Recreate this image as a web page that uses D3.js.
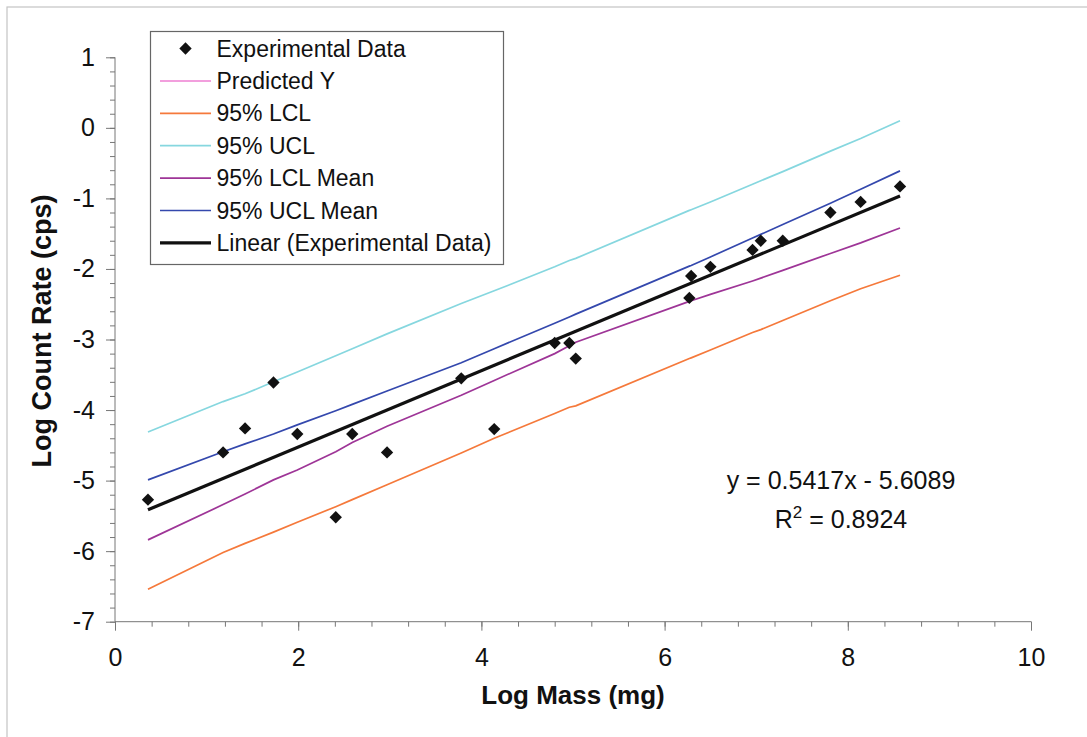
<!DOCTYPE html>
<html><head><meta charset="utf-8">
<script src="https://cdn.jsdelivr.net/npm/d3@7"></script>
<style>body{margin:0;background:#fff}svg{display:block}text{font-family:"Liberation Sans",Arial,sans-serif}</style>
</head><body><svg id="c" width="1087" height="737"></svg>
<script>
// Data
const xVals = [0.36,1.18,1.42,1.73,1.99,2.41,2.59,2.97,3.78,4.14,4.80,4.96,5.03,6.27,6.29,6.50,6.96,7.05,7.29,7.81,8.14,8.57];
const expData = [-5.27,-4.60,-4.26,-3.61,-4.34,-5.52,-4.34,-4.60,-3.55,-4.27,-3.05,-3.05,-3.27,-2.41,-2.10,-1.97,-1.73,-1.60,-1.60,-1.20,-1.05,-0.83];
const predictedY = [-5.41,-4.97,-4.84,-4.67,-4.53,-4.30,-4.21,-4.00,-3.56,-3.37,-3.01,-2.92,-2.88,-2.21,-2.20,-2.09,-1.84,-1.79,-1.66,-1.38,-1.20,-0.97];
const lcl95 = [-6.54,-6.02,-5.89,-5.73,-5.59,-5.37,-5.27,-5.06,-4.61,-4.40,-4.05,-3.96,-3.94,-3.27,-3.26,-3.15,-2.90,-2.86,-2.73,-2.45,-2.28,-2.09];
const ucl95 = [-4.31,-3.88,-3.77,-3.60,-3.46,-3.23,-3.13,-2.92,-2.49,-2.31,-1.97,-1.88,-1.85,-1.17,-1.16,-1.05,-0.80,-0.75,-0.62,-0.33,-0.15,0.10];
const lclMean = [-5.84,-5.34,-5.19,-4.99,-4.85,-4.59,-4.46,-4.23,-3.79,-3.58,-3.20,-3.09,-3.04,-2.46,-2.45,-2.36,-2.17,-2.13,-2.02,-1.78,-1.63,-1.42];
const uclMean = [-4.99,-4.59,-4.48,-4.34,-4.21,-4.01,-3.92,-3.73,-3.33,-3.13,-2.77,-2.68,-2.64,-1.96,-1.95,-1.83,-1.56,-1.51,-1.37,-1.07,-0.87,-0.61];
const trendSlope = 0.5417, trendIntercept = -5.6089, rSquared = 0.8924;
const xTicks = [0,2,4,6,8,10];
const yTicks = [1,0,-1,-2,-3,-4,-5,-6,-7];
const legendLabels = ["Experimental Data","Predicted Y","95% LCL","95% UCL","95% LCL Mean","95% UCL Mean","Linear (Experimental Data)"];

const svg = d3.select("#c");
const x = d3.scaleLinear().domain([0,10]).range([115,1031]);
const y = d3.scaleLinear().domain([-7,1]).range([621.7,57.3]);
const axisCol = "#777";
const fmt = d => String(d); // plain hyphen-minus like the reference

// outer frame (top & left visible)
svg.append("rect").attr("x",7).attr("y",7).attr("width",1100).attr("height",760)
  .attr("fill","none").attr("stroke","#c4c4c4").attr("stroke-width",1.2);

// axes
const minorX = d3.range(0,10.0001,0.4);
const minorY = d3.range(-7,1.0001,0.2);
const gx = svg.append("g").attr("transform",`translate(0,${y(-7)})`);
gx.call(d3.axisBottom(x).tickValues(minorX).tickSize(5).tickFormat(""));
gx.call(g=>g.selectAll(".domain").remove());
const gx2 = svg.append("g").attr("transform",`translate(0,${y(-7)})`)
  .call(d3.axisBottom(x).tickValues(xTicks).tickSize(9).tickPadding(18).tickFormat(fmt));
const gy = svg.append("g").attr("transform",`translate(${x(0)},0)`);
gy.call(d3.axisLeft(y).tickValues(minorY).tickSize(5).tickFormat(""));
gy.call(g=>g.selectAll(".domain").remove());
const gy2 = svg.append("g").attr("transform",`translate(${x(0)},0)`)
  .call(d3.axisLeft(y).tickValues(yTicks).tickSize(9).tickPadding(11).tickFormat(fmt));
svg.selectAll(".domain").attr("stroke",axisCol);
svg.selectAll(".tick line").attr("stroke",axisCol);
gx2.selectAll("text").attr("font-size",25).attr("fill","#111").attr("font-family","Liberation Sans, Arial");
gy2.selectAll("text").attr("font-size",25).attr("fill","#111").attr("font-family","Liberation Sans, Arial");
gx2.selectAll(".domain").attr("d",`M${x(0)},0H${x(10)}`);
gy2.selectAll(".domain").attr("d",`M0,${y(1)}V${y(-7)}`);

// axis titles
svg.append("text").attr("x",(x(0)+x(10))/2).attr("y",704).attr("text-anchor","middle")
  .attr("font-size",26).attr("font-weight","bold").attr("fill","#111").text("Log Mass (mg)");
svg.append("text").attr("transform","translate(50.5,331) rotate(-90)").attr("text-anchor","middle")
  .attr("font-size",27).attr("font-weight","bold").attr("fill","#111").text("Log Count Rate (cps)");

// lines
const pts = arr => arr.map((v,i)=>[xVals[i],v]);
const line = d3.line().x(d=>x(d[0])).y(d=>y(d[1]));
const series = [
  {vals:predictedY, color:"#ee7fd2", w:1.5},
  {vals:lcl95, color:"#f5793b", w:1.7},
  {vals:ucl95, color:"#86d7df", w:1.7},
  {vals:lclMean, color:"#9e3597", w:1.7},
  {vals:uclMean, color:"#3448ad", w:1.7}
];
series.forEach(s=>{
  svg.append("path").datum(pts(s.vals)).attr("d",line).attr("fill","none")
    .attr("stroke",s.color).attr("stroke-width",s.w);
});
// markers
const diamond = d3.symbol().type(d3.symbolSquare).size(76);
svg.append("g").selectAll("path").data(pts(expData)).join("path")
  .attr("d",diamond).attr("transform",d=>`translate(${x(d[0])},${y(d[1])}) rotate(45)`).attr("fill","#111");
// trendline
const xMin = d3.min(xVals), xMax = d3.max(xVals);
svg.append("path").datum([[xMin,trendSlope*xMin+trendIntercept],[xMax,trendSlope*xMax+trendIntercept]])
  .attr("d",line).attr("fill","none").attr("stroke","#111").attr("stroke-width",3.2);

// equation
svg.append("text").attr("x",841).attr("y",489).attr("text-anchor","middle").attr("font-size",25).attr("fill","#111")
  .text(`y = ${trendSlope}x - ${Math.abs(trendIntercept)}`);
const r2 = svg.append("text").attr("x",841).attr("y",528).attr("text-anchor","middle").attr("font-size",25).attr("fill","#111");
r2.append("tspan").text("R");
r2.append("tspan").attr("font-size",17).attr("dy",-10).text("2");
r2.append("tspan").attr("dy",10).text(` = ${rSquared}`);

// legend
const lg = svg.append("g");
lg.append("rect").attr("x",150.5).attr("y",31.5).attr("width",353).attr("height",233)
  .attr("fill","#fff").attr("stroke","#666").attr("stroke-width",1.2);
const legendStyles = [
  {type:"marker"},
  {color:"#ee7fd2", w:1.5},
  {color:"#f5793b", w:1.7},
  {color:"#86d7df", w:1.7},
  {color:"#9e3597", w:1.7},
  {color:"#3448ad", w:1.7},
  {color:"#111", w:3.2}
];
legendLabels.forEach((lab,i)=>{
  const cy = 48.5 + i*32.4;
  const st = legendStyles[i];
  if(st.type==="marker"){
    lg.append("path").attr("d",diamond).attr("transform",`translate(185.5,${cy}) rotate(45)`).attr("fill","#111");
  } else {
    lg.append("line").attr("x1",160).attr("x2",211).attr("y1",cy).attr("y2",cy)
      .attr("stroke",st.color).attr("stroke-width",st.w);
  }
  lg.append("text").attr("x",216.5).attr("y",cy+8).attr("font-size",23).attr("fill","#111").text(lab);
});
</script></body></html>
